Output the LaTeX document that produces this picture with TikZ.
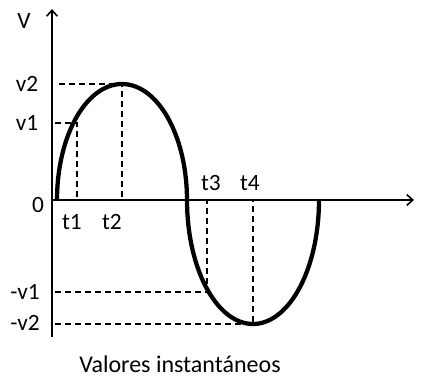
\documentclass[tikz,border=0pt]{standalone}
\usepackage{fontspec}
\setmainfont{Carlito}
\usetikzlibrary{arrows.meta}
\tikzset{
  axisline/.style={line width=1.2pt, -{Straight Barb[length=4.5pt, width=8pt, line width=1.2pt]}},
  wave/.style={line width=3.2pt, line join=round},
  guide/.style={line width=1pt, dash pattern=on 4.5pt off 3pt},
  lbl/.style={font=\fontsize{17.5}{20}\selectfont, inner sep=0pt},
  caption/.style={font=\fontsize{18}{21}\selectfont, inner sep=0pt}
}

\begin{document}
\begin{tikzpicture}[x=0.75pt, y=-0.75pt]
  \useasboundingbox (0,0) rectangle (422,377);
  % axes
  \coordinate (o) at (52,200);
  \coordinate (ybot) at (52,337);
  \coordinate (ytop) at (52,9);
  \coordinate (xend) at (414,200);
  \draw[axisline] (ybot) -- (ytop);
  \draw[axisline] (o) -- (xend);
  % points on the wave
  \coordinate (p1) at (77,123);
  \coordinate (p2) at (122,84);
  \coordinate (p3) at (207,292);
  \coordinate (p4) at (253,324);
  \coordinate (a1) at (77,200);
  \coordinate (a2) at (122,200);
  \coordinate (a3) at (207,200);
  \coordinate (a4) at (253,200);
  \coordinate (h1) at (55,123);
  \coordinate (h2) at (59,84);
  \coordinate (h3) at (55,292);
  \coordinate (h4) at (55,324);
  % guides
  \draw[guide] (h2) -- (p2) -- (a2);
  \draw[guide] (h1) -- (p1) -- (a1);
  \draw[guide] (h3) -- (p3) -- (a3);
  \draw[guide] (h4) -- (p4) -- (a4);
  % wave
  \draw[wave] plot[domain=0:180, samples=80] ({122-65*cos(\x)},{200-116*sin(\x)})
    -- plot[domain=0:180, samples=80] ({253-66*cos(\x)},{200+124*sin(\x)});
  % labels
  \node[lbl] (lv) at (24,21) {V};
  \node[lbl] (lv2) at (27,84) {v2};
  \node[lbl] (lv1) at (27,123) {v1};
  \node[lbl] (l0) at (38,205) {0};
  \node[lbl] (lt1) at (72,222) {t1};
  \node[lbl] (lt2) at (112,222) {t2};
  \node[lbl] (lt3) at (211,183) {t3};
  \node[lbl] (lt4) at (250,183) {t4};
  \node[lbl] (lm1) at (25,292) {-v1};
  \node[lbl] (lm2) at (25,323) {-v2};
  \node[caption] (cap) at (180,364) {Valores instantáneos};
\end{tikzpicture}
\end{document}
